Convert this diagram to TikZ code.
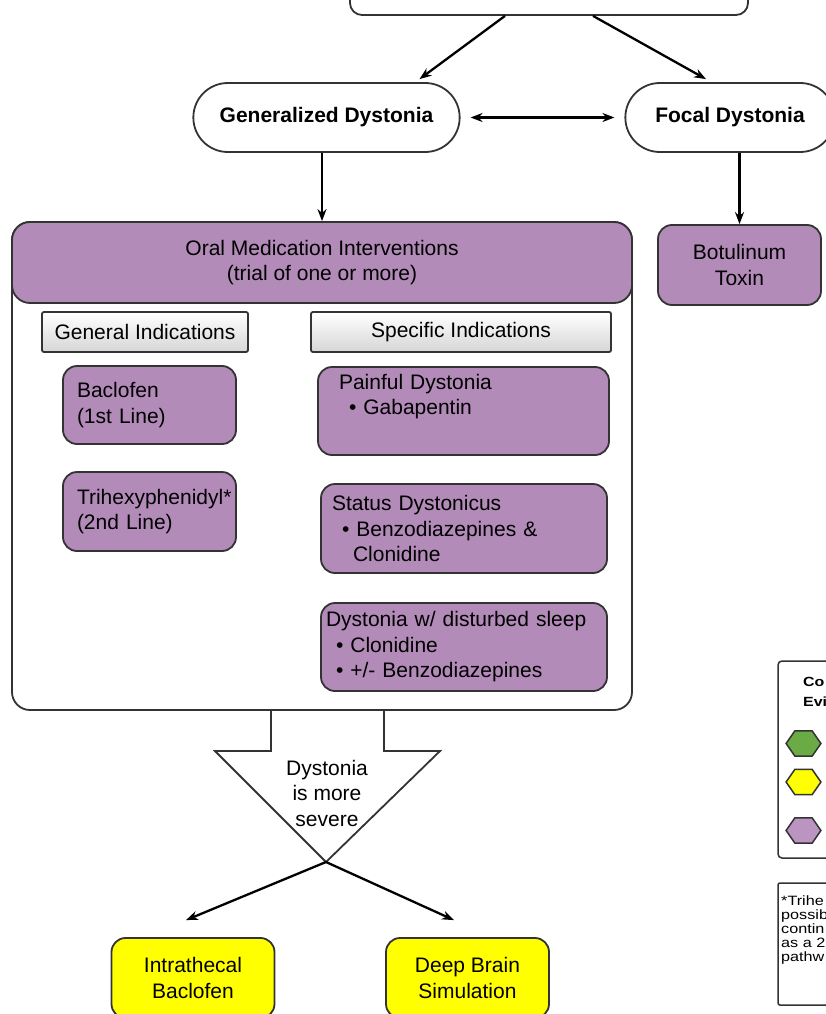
\documentclass[tikz,border=0pt]{standalone}
\usepackage{fontspec}
\setmainfont{Liberation Sans}
\newfontfamily\keyfont[FakeStretch=1.2]{Liberation Sans}
\usetikzlibrary{shapes.misc, shapes.geometric, arrows.meta}
\definecolor{edge}{HTML}{333333}
\definecolor{medpurple}{HTML}{B28BB8}
\definecolor{hdrgray}{HTML}{D6D6D6}
\definecolor{lvlgreen}{HTML}{6AAB45}
\definecolor{lvlyellow}{HTML}{FFFF00}
\definecolor{lvlpurple}{HTML}{BC94C2}
\newcommand{\mainsize}{\fontsize{21}{25.5}\selectfont}
\newcommand{\bul}{\hspace*{10pt}\textbullet\ }
\newcommand{\hang}{\hspace*{21pt}}

\begin{document}
\begin{tikzpicture}[x=1pt, y=-1pt, font=\mainsize,
    box/.style={draw=edge, line width=1.8pt, rounded corners=14pt, inner sep=0pt},
    med/.style={box, fill=medpurple, align=left},
    pill/.style={draw=edge, line width=1.8pt, rounded rectangle, minimum height=69pt, font=\mainsize\bfseries},
    hdr/.style={draw=edge, line width=1.8pt, rounded corners=2pt, top color=white, bottom color=hdrgray, minimum height=40pt, inner sep=0pt},
    lvl/.style={box, fill=lvlyellow, align=center, minimum width=163pt, minimum height=80pt},
    hexkey/.style={draw=edge, line width=1.5pt, regular polygon, regular polygon sides=6, minimum size=29pt, inner sep=0pt, xscale=1.2, transform shape},
    arr/.style={-{Stealth[length=12pt,width=9pt]}, line width=2.3pt}]

    \path[use as bounding box, fill=white] (0,0) rectangle (826,1014);

    % top of the chart
    \node[box, rounded corners=12pt, minimum width=398pt, minimum height=70pt] (cause) at (549,-20) {};
    \node[pill, minimum width=273pt] (gen) at (326.5,117.5) {Generalized Dystonia};
    \node[pill, minimum width=216pt] (focal) at (730,117.5) {Focal Dystonia};

    \draw[arr] ([xshift=-44pt]cause.south) -- ([xshift=93pt,yshift=3pt]gen.north);
    \draw[arr] ([xshift=44pt]cause.south) -- ([xshift=-24pt,yshift=3pt]focal.north);
    \draw[{Stealth[length=12pt,width=9pt]}-{Stealth[length=12pt,width=9pt]}, line width=2.3pt]
        ([xshift=10pt]gen.east) -- ([xshift=-10pt]focal.west);

    % oral medication
    \node[box, rounded corners=18pt, minimum width=620pt, minimum height=488pt] (medbox) at (322,466) {};
    \node[box, fill=medpurple, rounded corners=18pt, minimum width=620pt, minimum height=81pt, align=center] (oral) at (322,262.5)
        {Oral Medication Interventions\\(trial of one or more)};
    \node[box, fill=medpurple, minimum width=163pt, minimum height=80pt, align=center] (botox) at (739.5,265) {Botulinum\\Toxin};

    \draw[arr] (oral.north |- gen.south) -- (oral.north);
    \draw[arr] (botox.north |- focal.south) -- (botox.north);

    \node[hdr, minimum width=206pt] (genind) at (145,332) {General Indications};
    \node[hdr, minimum width=300pt] (specind) at (461,332) {Specific Indications};

    \node[med, minimum width=173pt, minimum height=78pt, text width=145pt] (baclofen) at (149.5,405)
        {Baclofen\\(1st Line)};
    \node[med, minimum width=173pt, minimum height=79pt, text width=145pt] (trihex) at (149.5,511.5)
        {\mbox{Trihexyphenidyl*}\\(2nd Line)};

    \node[med, minimum width=291pt, minimum height=88pt, text width=249pt] (painful) at (463.5,411)
        {Painful Dystonia\\\bul Gabapentin\\\strut};
    \node[med, minimum width=286pt, minimum height=89pt, text width=264pt] (status) at (464,528.5)
        {Status Dystonicus\\\bul Benzodiazepines \&\\\hang Clonidine};
    \node[med, minimum width=286pt, minimum height=88pt, text width=276pt] (sleep) at (464,647)
        {Dystonia w/ disturbed sleep\\\bul Clonidine\\\bul +/- Benzodiazepines};

    % severity arrow
    \draw[draw=edge, line width=1.8pt] (271,710) -- (271,751) -- (215,751) -- (326,862)
        -- (440,751) -- (384,751) -- (384,710);
    \coordinate (tip) at (326,862);
    \node[align=center, inner sep=0pt] (severe) at (327,793) {Dystonia\\is more\\severe};

    \node[lvl] (itb) at (193,978) {Intrathecal\\Baclofen};
    \node[lvl] (dbs) at (467.5,978) {Deep Brain\\Simulation};

    \draw[arr] (tip) -- ([xshift=-7pt,yshift=17pt]itb.north);
    \draw[arr] (tip) -- ([xshift=-13.5pt,yshift=17pt]dbs.north);

    % key and note
    \node[draw=edge, line width=1.5pt, rounded corners=4pt, minimum width=130pt, minimum height=197pt] (key) at (843,759.5) {};
    \node[anchor=west, inner sep=0pt, align=left, font=\keyfont\fontsize{13.3}{20}\selectfont\bfseries] (keytitle) at (803,692) {Co\\Evi};
    \node[hexkey, fill=lvlgreen] (keygreen) at (803.5,743.5) {};
    \node[hexkey, fill=lvlyellow] (keyyellow) at (803.5,782) {};
    \node[hexkey, fill=lvlpurple] (keypurple) at (803.5,830.5) {};

    \node[draw=edge, line width=1.5pt, rounded corners=2pt, minimum width=130pt, minimum height=122pt] (note) at (843,944) {};
    \node[anchor=west, inner sep=0pt, align=left, font=\keyfont\fontsize{13.5}{14}\selectfont] (notetext) at (781,930)
        {*Trihe\\possib\\contin\\as a 2\\pathw};

\end{tikzpicture}
\end{document}
